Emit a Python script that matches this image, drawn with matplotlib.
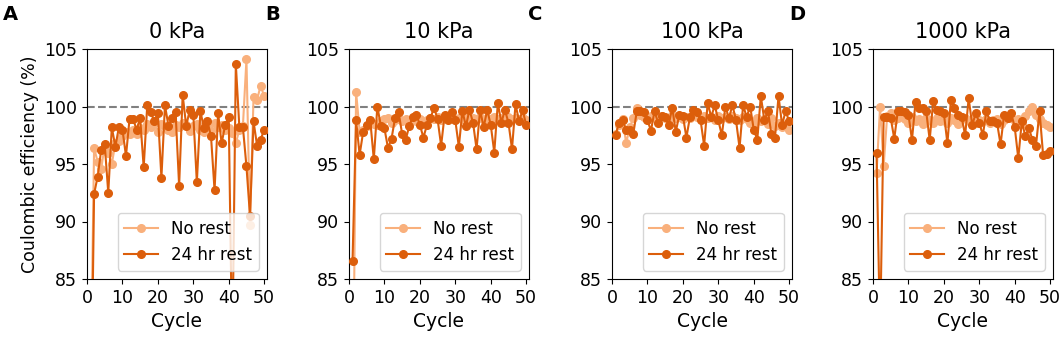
import matplotlib.pyplot as plt

# cycle numbers and coulombic efficiency (%)
cycles = list(range(1, 51))
pressures = ["0 kPa", "10 kPa", "100 kPa", "1000 kPa"]
panel_letters = ["A", "B", "C", "D"]

no_rest_0 = [75.0, 96.4, 95.2, 94.6, 96.6, 96.0, 95.0, 96.8, 97.0, 97.4,
             97.8, 97.6, 98.0, 97.6, 98.1, 98.0, 98.5, 98.2, 98.6, 97.8,
             98.5, 98.3, 98.0, 97.8, 98.4, 98.2, 98.6, 98.4, 97.9, 98.3,
             98.5, 98.0, 97.8, 98.4, 97.9, 98.6, 98.2, 98.4, 98.0, 98.1,
             97.7, 96.8, 98.0, 98.3, 104.1, 89.7, 100.8, 100.6, 101.8, 100.9]
rest_0 = [70.0, 92.4, 93.9, 96.2, 96.7, 92.5, 98.2, 96.5, 98.2, 98.0,
          95.7, 98.9, 98.9, 98.0, 99.0, 94.7, 100.1, 99.5, 98.7, 99.4,
          93.8, 100.1, 98.3, 99.0, 99.5, 93.1, 101.0, 98.3, 99.7, 99.3,
          93.4, 99.6, 98.1, 98.7, 97.4, 92.7, 99.4, 96.8, 98.4, 99.1,
          78.0, 103.7, 98.2, 98.2, 94.8, 90.5, 98.7, 96.6, 97.1, 98.0]

no_rest_10 = [70.0, 101.3, 97.8, 98.0, 98.3, 98.6, 98.5, 98.4, 98.7, 98.9,
              99.0, 98.6, 98.8, 98.9, 98.7, 98.9, 98.8, 99.0, 98.7, 98.9,
              98.6, 98.8, 99.0, 98.9, 99.1, 98.8, 99.0, 98.9, 99.1, 98.8,
              99.0, 98.9, 99.1, 98.8, 99.0, 98.9, 99.1, 98.8, 99.0, 98.9,
              99.1, 98.9, 99.0, 98.8, 99.1, 98.9, 99.0, 98.9, 99.0, 98.8]
rest_10 = [86.6, 98.8, 95.8, 97.8, 98.4, 98.8, 95.4, 100.0, 98.3, 98.1,
           96.4, 97.2, 99.0, 99.5, 97.6, 97.1, 98.3, 99.1, 99.3, 98.4,
           97.3, 98.4, 99.0, 99.9, 98.9, 96.6, 99.3, 98.8, 99.5, 98.8,
           96.5, 99.6, 98.3, 99.7, 98.6, 96.3, 99.7, 98.2, 99.7, 98.4,
           96.0, 100.3, 98.6, 99.7, 98.6, 96.3, 100.2, 98.7, 99.7, 98.4]

no_rest_100 = [97.6, 98.4, 98.9, 96.8, 98.2, 99.0, 99.9, 99.3, 99.1, 98.9,
               99.2, 99.0, 98.8, 99.2, 99.0, 98.9, 99.3, 99.0, 99.2, 98.9,
               99.1, 99.0, 99.3, 99.1, 98.9, 99.2, 99.0, 99.1, 98.8, 99.2,
               99.0, 99.1, 98.9, 99.2, 99.0, 98.8, 99.1, 98.9, 98.6, 98.4,
               99.0, 98.7, 98.9, 98.5, 99.0, 98.3, 98.6, 98.2, 98.5, 98.0]
rest_100 = [97.5, 98.6, 98.8, 98.0, 98.0, 97.6, 99.6, 99.6, 99.5, 98.8,
            97.9, 99.6, 98.6, 99.2, 99.1, 98.4, 99.9, 97.8, 99.3, 99.2,
            97.3, 99.1, 99.7, 99.5, 98.8, 96.6, 100.3, 99.1, 100.1, 98.8,
            97.5, 100.0, 99.0, 100.1, 98.8, 96.4, 100.1, 99.1, 100.0, 98.0,
            97.1, 100.9, 98.8, 99.6, 97.6, 97.3, 100.9, 98.4, 99.6, 98.7]

no_rest_1000 = [94.2, 100.0, 94.8, 99.2, 99.4, 98.8, 99.0, 99.2, 98.9, 98.6,
                99.1, 98.7, 98.9, 98.5, 99.0, 98.8, 98.6, 99.0, 98.7, 98.9,
                98.6, 99.0, 98.8, 98.5, 98.9, 99.0, 98.7, 98.9, 98.6, 98.8,
                98.7, 98.9, 98.6, 98.8, 98.9, 98.5, 98.8, 99.2, 99.0, 98.7,
                98.9, 98.5, 99.2, 99.6, 100.0, 99.3, 98.9, 98.6, 98.4, 98.2]
rest_1000 = [96.0, 80.0, 99.1, 99.1, 99.0, 97.2, 99.6, 99.6, 99.5, 99.3,
             97.1, 100.4, 99.9, 99.9, 99.6, 97.1, 100.5, 99.7, 99.6, 99.4,
             96.8, 100.6, 99.9, 99.3, 99.1, 97.5, 100.7, 98.4, 99.4, 98.6,
             97.5, 99.6, 98.7, 98.7, 98.6, 96.7, 99.3, 99.0, 99.4, 98.2,
             95.5, 98.7, 97.4, 98.1, 97.1, 96.6, 99.6, 95.8, 95.9, 96.1]

no_rest = [no_rest_0, no_rest_10, no_rest_100, no_rest_1000]
rest = [rest_0, rest_10, rest_100, rest_1000]

light = "#f9b07c"
dark = "#dc5e0b"

W, H = 1063, 342
fig = plt.figure(figsize=(W / 100, H / 100), dpi=100)

lefts = [87, 349, 612, 873]
ax_w = 180
ax_top, ax_bot = 49, 279

for i in range(4):
    ax = fig.add_axes([lefts[i] / W, 1 - ax_bot / H, ax_w / W, (ax_bot - ax_top) / H])
    ax.axhline(100, color="grey", ls="--", lw=1.5, zorder=1)
    ax.plot(cycles, no_rest[i], "-o", color=light, ms=5.5, lw=1.5, label="No rest", zorder=2)
    ax.plot(cycles, rest[i], "-o", color=dark, ms=5.5, lw=1.5, label="24 hr rest", zorder=3)
    ax.set_xlim(0, 50.8)
    ax.set_ylim(85, 105)
    ax.set_xticks([0, 10, 20, 30, 40, 50])
    ax.set_yticks([85, 90, 95, 100, 105])
    ax.tick_params(labelsize=12.5)
    ax.set_title(pressures[i], fontsize=15, pad=8)
    ax.set_xlabel("Cycle", fontsize=13.5)
    if i == 0:
        ax.set_ylabel("Coulombic efficiency (%)", fontsize=12.5)
    ax.legend(loc="lower right", fontsize=12, handlelength=2.0)
    fig.text((lefts[i] - 84) / W, 1 - 14 / H, panel_letters[i], fontsize=14,
             fontweight="bold", va="center", ha="left")

fig.savefig("out.png", dpi=100)
